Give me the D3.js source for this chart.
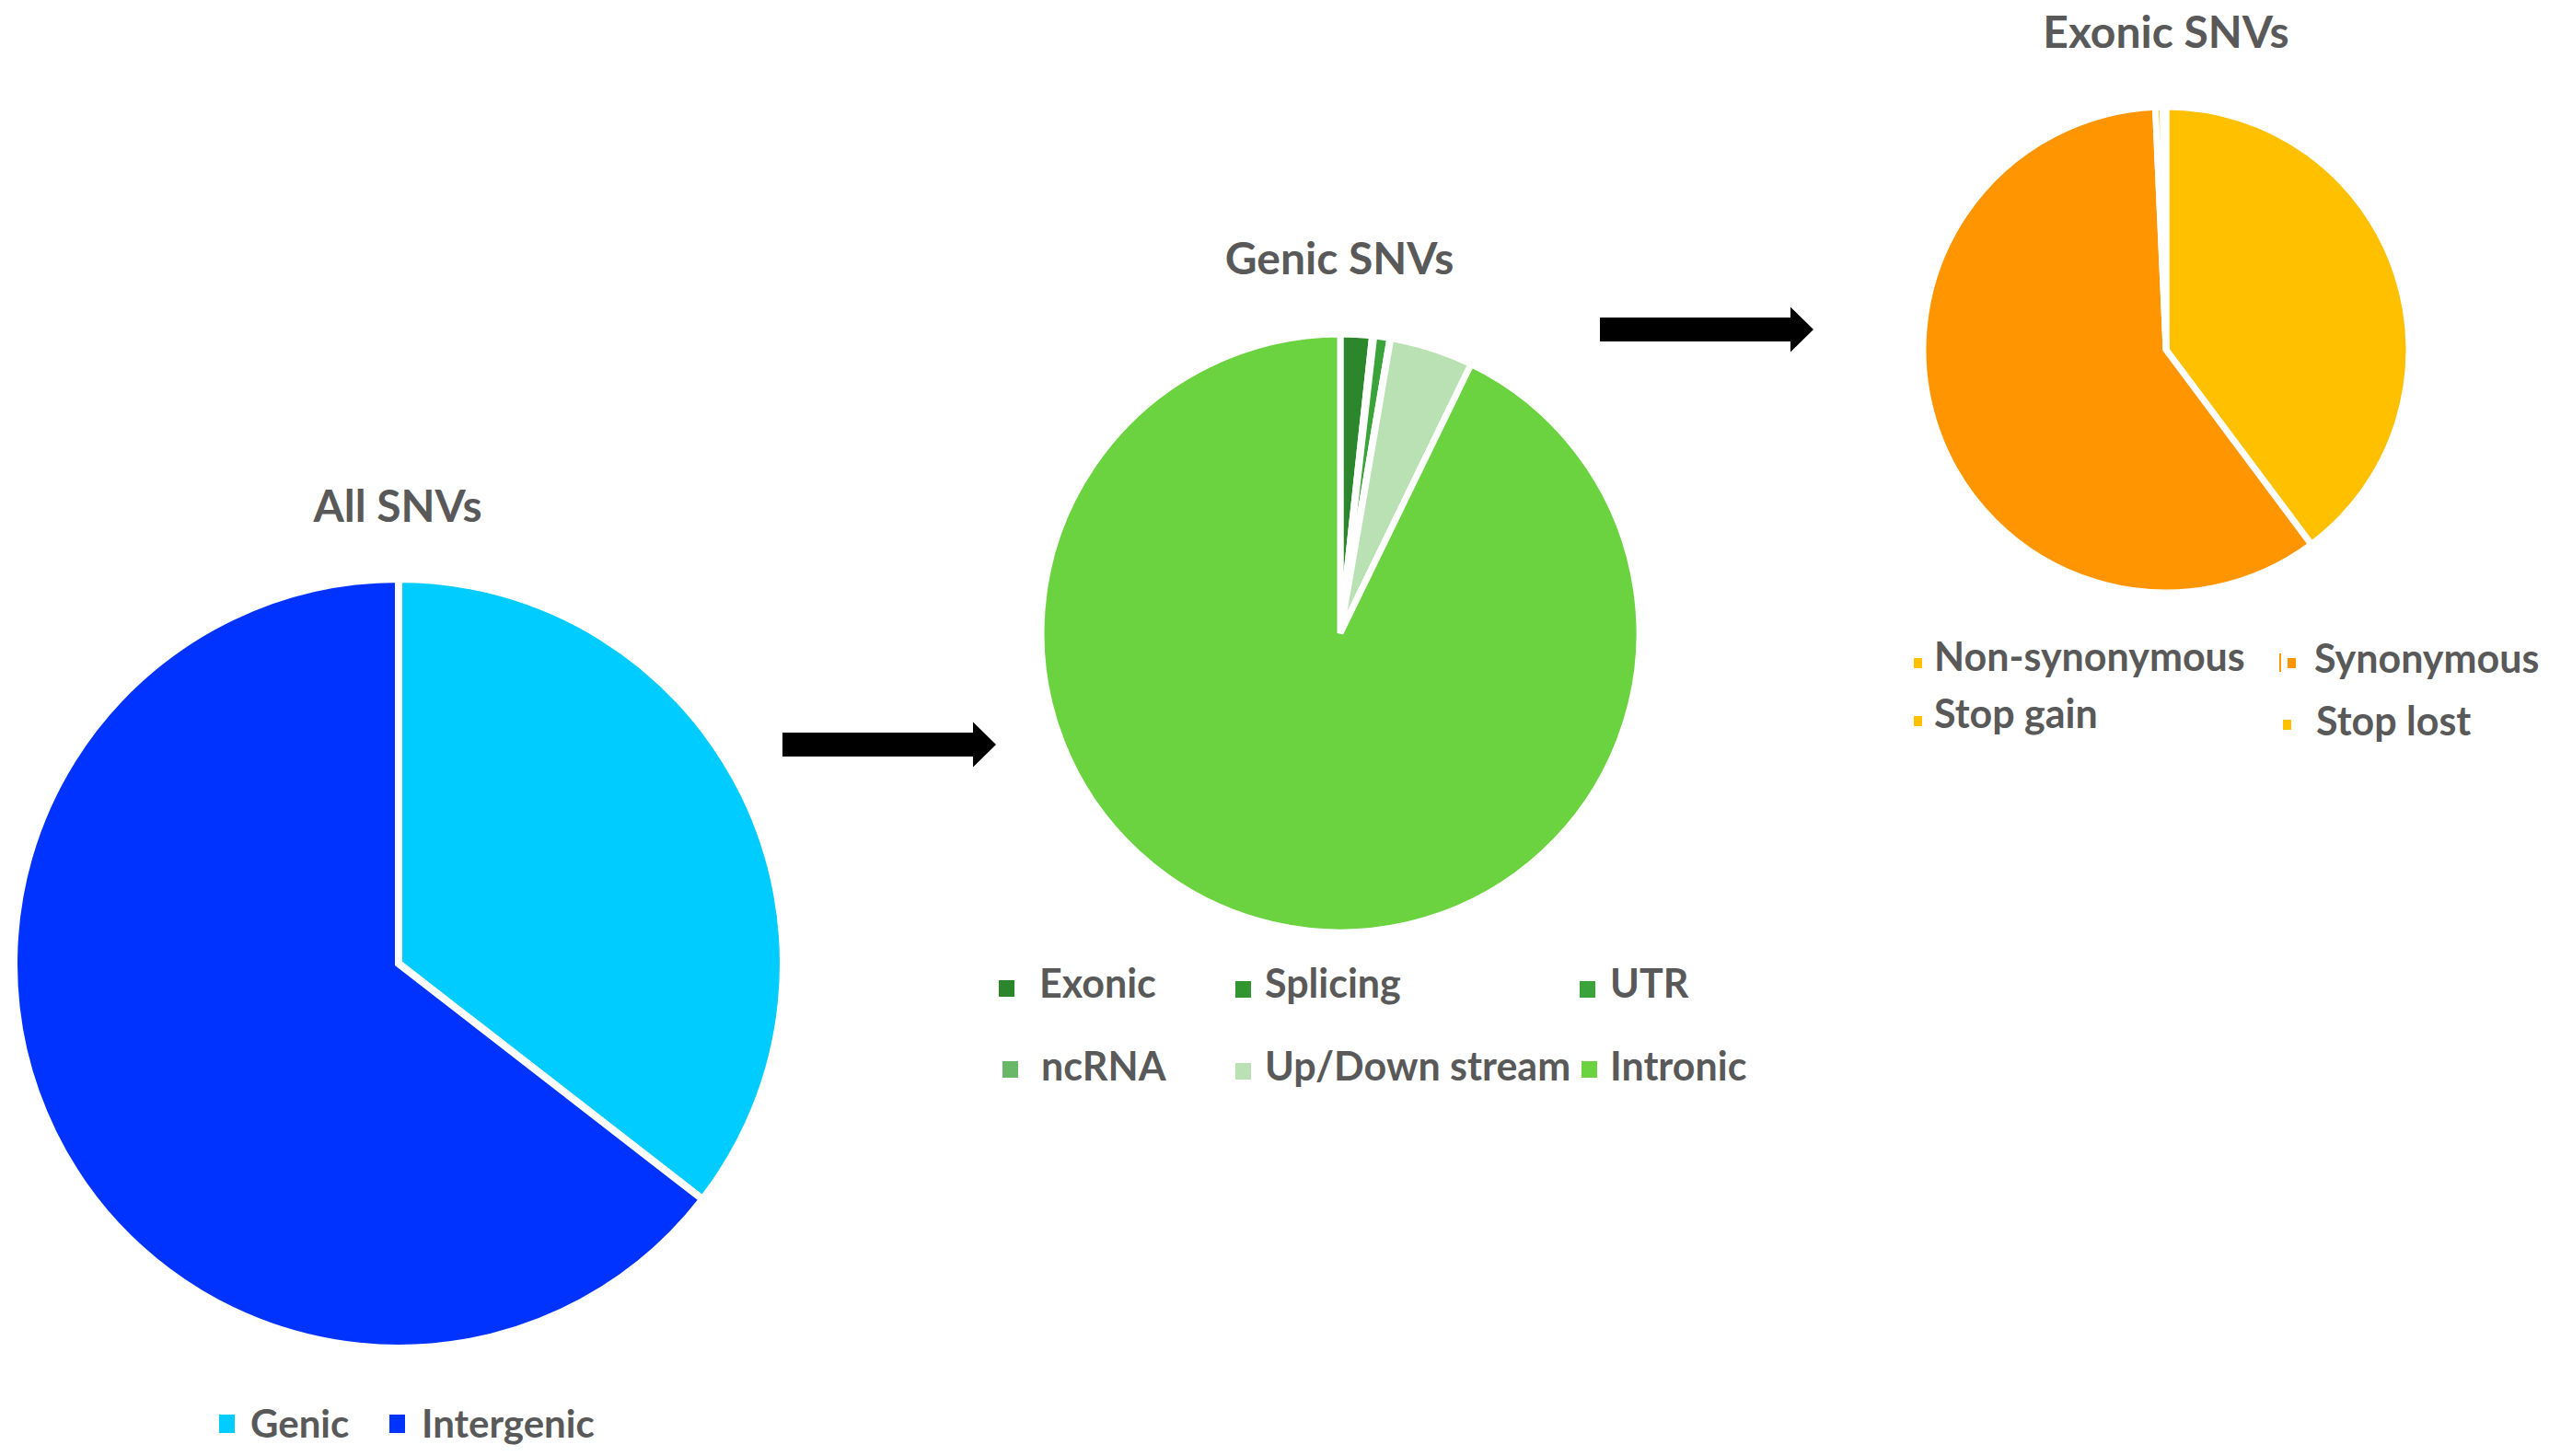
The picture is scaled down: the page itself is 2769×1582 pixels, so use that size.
<!DOCTYPE html>
<html>
<head>
<meta charset="utf-8">
<script src="https://cdn.jsdelivr.net/npm/d3@7"></script>
<style>
  html, body { margin: 0; padding: 0; background: #fff; }
  svg text { font-family: Lato, "Open Sans", sans-serif; font-weight: bold; fill: #595959; }
</style>
</head>
<body>
<script>
// 数据：三个饼图
var allCats = ["Genic", "Intergenic"];
var allVals = [35.5, 64.5];

var genicCats = ["Exonic", "Splicing", "UTR", "ncRNA", "Up/Down stream", "Intronic"];
var genicVals = [1.7, 0.1, 0.85, 0.05, 4.5, 92.8];

var exonicCats = ["Non-synonymous", "Synonymous", "Stop gain", "Stop lost"];
var exonicVals = [39.8, 59.5, 0.5, 0.2];

var titles = ["All SNVs", "Genic SNVs", "Exonic SNVs"];

// 颜色
var allColors = ["#00CCFF", "#0033FF"];
var genicColors = ["#2C872C", "#31962F", "#3AA33A", "#68B868", "#B9E1B3", "#6BD33F"];
var exonicColors = ["#FFC000", "#FF9500", "#FFC000", "#FFC000"];

var W = 2769, H = 1582;
var svg = d3.select("body").append("svg").attr("width", W).attr("height", H);

// 画一个饼图
function drawPie(cfg) {
    var pie = d3.pie().sort(null).value(function (d) { return d; });
    var arc = d3.arc().innerRadius(0).outerRadius(cfg.r);
    var g = svg.append("g").attr("transform", "translate(" + cfg.cx + "," + cfg.cy + ")");
    g.selectAll("path")
        .data(pie(cfg.vals))
        .enter().append("path")
        .attr("d", arc)
        .attr("fill", function (d, i) { return cfg.colors[i]; })
        .attr("stroke", "#fff")
        .attr("stroke-width", cfg.stroke)
        .attr("stroke-linejoin", "miter");

    svg.append("text")
        .attr("x", cfg.titleX)
        .attr("y", cfg.titleY)
        .attr("text-anchor", "middle")
        .style("font-size", cfg.titleSize + "px")
        .text(cfg.title);

    // 图例
    var lg = svg.selectAll(null)
        .data(cfg.cats)
        .enter().append("g");
    lg.append("rect")
        .attr("x", function (d, i) { return cfg.legend[i].mx; })
        .attr("y", function (d, i) { return cfg.legend[i].my; })
        .attr("width", cfg.mw)
        .attr("height", cfg.mh)
        .attr("fill", function (d, i) { return cfg.colors[i]; });
    lg.append("text")
        .attr("x", function (d, i) { return cfg.legend[i].tx; })
        .attr("y", function (d, i) { return cfg.legend[i].ty; })
        .style("font-size", cfg.legendSize + "px")
        .text(function (d) { return d; });
}

drawPie({
    cats: allCats, vals: allVals, colors: allColors, title: titles[0],
    cx: 433, cy: 1047, r: 418, stroke: 8,
    titleX: 432, titleY: 567, titleSize: 48,
    mw: 17, mh: 20, legendSize: 42,
    legend: [
        { mx: 238, my: 1537, tx: 272, ty: 1562 },
        { mx: 423, my: 1537, tx: 458, ty: 1562 }
    ]
});

drawPie({
    cats: genicCats, vals: genicVals, colors: genicColors, title: titles[1],
    cx: 1456, cy: 688, r: 325, stroke: 7,
    titleX: 1455, titleY: 298, titleSize: 48,
    mw: 17, mh: 18, legendSize: 43,
    legend: [
        { mx: 1085, my: 1065, tx: 1129, ty: 1084 },
        { mx: 1342, my: 1066, tx: 1374, ty: 1084 },
        { mx: 1716, my: 1066, tx: 1749, ty: 1084 },
        { mx: 1089, my: 1153, tx: 1131, ty: 1174 },
        { mx: 1342, my: 1155, tx: 1374, ty: 1174 },
        { mx: 1718, my: 1153, tx: 1749, ty: 1174 }
    ]
});

drawPie({
    cats: exonicCats, vals: exonicVals, colors: exonicColors, title: titles[2],
    cx: 2353, cy: 380, r: 264, stroke: 7,
    titleX: 2353, titleY: 52, titleSize: 48,
    mw: 9, mh: 11, legendSize: 43,
    legend: [
        { mx: 2079, my: 715, tx: 2101, ty: 729 },
        { mx: 2485, my: 715, tx: 2514, ty: 731 },
        { mx: 2079, my: 778, tx: 2101, ty: 791 },
        { mx: 2480, my: 782, tx: 2516, ty: 799 }
    ]
});
// Synonymous 图例左侧的细线
svg.append("rect").attr("x", 2476).attr("y", 710).attr("width", 2).attr("height", 20).attr("fill", "#FF9500");

// 箭头
function arrow(x0, x1, yc, bodyH, headL, headH) {
    var xb = x1 - headL;
    var pts = [
        [x0, yc - bodyH / 2], [xb, yc - bodyH / 2], [xb, yc - headH / 2], [x1, yc],
        [xb, yc + headH / 2], [xb, yc + bodyH / 2], [x0, yc + bodyH / 2]
    ];
    svg.append("path").attr("d", d3.line()(pts) + "Z").attr("fill", "#000");
}
arrow(850, 1082, 809, 26, 25, 49);
arrow(1738, 1970, 358, 26, 25, 49);
</script>
</body>
</html>
